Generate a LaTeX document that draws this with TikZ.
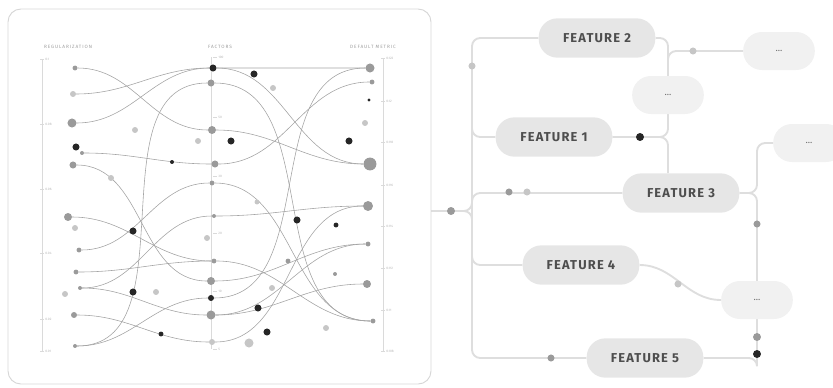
\documentclass[tikz,border=0pt]{standalone}
\usepackage{fontspec}
\setmainfont{Fira Sans}
\newfontfamily\featfont[LetterSpace=9]{Fira Sans}
\newfontfamily\axfont[LetterSpace=20]{Fira Sans}
\usetikzlibrary{backgrounds}
\definecolor{dotdark}{HTML}{262626}
\definecolor{dotmid}{HTML}{9A9A9A}
\definecolor{dotlight}{HTML}{C6C6C6}
\definecolor{curvegray}{HTML}{A4A4A4}
\definecolor{axisgray}{HTML}{DADADA}
\definecolor{ticktext}{HTML}{B4B4B4}
\definecolor{headtext}{HTML}{9C9C9C}
\definecolor{panelgray}{HTML}{D6D6D6}
\definecolor{treegray}{HTML}{DEDEDE}
\definecolor{pillgray}{HTML}{E6E6E6}
\definecolor{pilllight}{HTML}{F1F1F1}
\definecolor{feattext}{HTML}{4E4E4E}
\definecolor{moretext}{HTML}{6E6E6E}

\begin{document}
\begin{tikzpicture}[x=0.03cm,y=-0.03cm,label distance=0.6pt,
  ball/.style={circle,inner sep=0pt},
  dk/.style={ball,fill=dotdark,minimum size=#1}, dk/.default=6pt,
  md/.style={ball,fill=dotmid,minimum size=#1}, md/.default=4.2pt,
  lt/.style={ball,fill=dotlight,minimum size=#1}, lt/.default=5.1pt,
  pl/.style={draw=curvegray,line width=0.5pt},
  ax/.style={draw=axisgray,line width=0.6pt},
  tk/.style={inner sep=0pt,minimum width=0.1cm,minimum height=0.35pt,fill=axisgray},
  tkl/.style={font=\fontsize{2.8}{3}\selectfont,text=ticktext,inner sep=0.5pt},
  head/.style={font=\axfont\fontsize{4}{5}\selectfont,text=headtext},
  feat/.style={rectangle,rounded corners=16pt,fill=pillgray,minimum width=3.5cm,minimum height=1.18cm,
    text=feattext,font=\featfont\bfseries\fontsize{11}{12}\selectfont},
  more/.style={rectangle,rounded corners=16pt,fill=pilllight,minimum width=2.15cm,minimum height=1.14cm,
    text=moretext,font=\fontsize{8}{9}\selectfont},
  tl/.style={draw=treegray,line width=1.6pt,rounded corners=7pt}]
\useasboundingbox (0,0) rectangle (833,387);

% panel
\draw[panelgray,line width=0.8pt,rounded corners=11pt] (8,9) rectangle (431,384);
\coordinate (box) at (431,211);

% axes
\node[head] (h1) at (68,47) {REGULARIZATION};
\node[head] (h2) at (220,47) {FACTORS};
\node[head] (h3) at (373,47) {DEFAULT METRIC};

\node[tk,label={[tkl]right:0.1}] (a1) at (42,59) {};
\node[tk,label={[tkl]right:0.08}] (a2) at (42,124) {};
\node[tk,label={[tkl]right:0.06}] (a3) at (42,189) {};
\node[tk,label={[tkl]right:0.04}] (a4) at (42,253) {};
\node[tk,label={[tkl]right:0.02}] (a5) at (42,319) {};
\node[tk,label={[tkl]right:0.01}] (a6) at (42,351) {};

\node[tk,label={[tkl]right:100}] (b1) at (215,57) {};
\node[tk,label={[tkl]right:50}] (b2) at (215,117) {};
\node[tk,label={[tkl]right:30}] (b3) at (215,176) {};
\node[tk,label={[tkl]right:20}] (b4) at (215,233) {};
\node[tk,label={[tkl]right:10}] (b5) at (215,291) {};
\node[tk,label={[tkl]right:5}] (b6) at (215,349) {};

\node[tk,label={[tkl]right:0.122}] (c1) at (383,58) {};
\node[tk,label={[tkl]right:0.12}] (c2) at (383,101) {};
\node[tk,label={[tkl]right:0.118}] (c3) at (383,142) {};
\node[tk,label={[tkl]right:0.116}] (c4) at (383,185) {};
\node[tk,label={[tkl]right:0.114}] (c5) at (383,226) {};
\node[tk,label={[tkl]right:0.112}] (c6) at (383,268) {};
\node[tk,label={[tkl]right:0.11}] (c7) at (383,310) {};
\node[tk,label={[tkl]right:0.108}] (c8) at (383,351) {};

% dots on the axes
\node[md] (l1) at (75,68) {};
\node[lt] (l2) at (73,94) {};
\node[md=7.7pt] (l3) at (72,123) {};
\node[md=3.4pt] (l4) at (82,153) {};
\node[md=6pt] (l5) at (73,165) {};
\node[md=6.8pt] (l6) at (68,217) {};
\node[md] (l7) at (79,250) {};
\node[md] (l8) at (76,272) {};
\node[md=3.4pt] (l9) at (80,288) {};
\node[md=5.1pt] (l10) at (74,315) {};
\node[md=3.4pt] (l11) at (75,346) {};

\node[dk] (m1) at (213,68) {};
\node[md=6pt] (m2) at (211,83) {};
\node[md=6.8pt] (m3) at (212,130) {};
\node[md=6pt] (m4) at (215,164) {};
\node[md] (m5) at (212,183) {};
\node[md=3.4pt] (m6) at (214,216) {};
\node[lt] (m7) at (207,238) {};
\node[md] (m8) at (214,261) {};
\node[md=6.8pt] (m9) at (211,281) {};
\node[dk=5.1pt] (m10) at (211,298) {};
\node[md=7.7pt] (m11) at (211,315) {};
\node[lt] (m12) at (212,342) {};

\node[md=7.7pt] (r1) at (370,68) {};
\node[md] (r2) at (372,82) {};
\node[dk=2.6pt] (r3) at (369,100) {};
\node[lt] (r4) at (365,123) {};
\node[md=11pt] (r5) at (370,164) {};
\node[md=8.5pt] (r6) at (368,206) {};
\node[md] (r7) at (368,244) {};
\node[md=6.8pt] (r8) at (367,284) {};
\node[md] (r9) at (373,321) {};

% loose dots
\node[dk] (s1) at (76,147) {};
\node[lt] (s2) at (75,228) {};
\node[lt] (s3) at (65,294) {};
\node[lt] (s4) at (135,130) {};
\node[lt] (s5) at (111,178) {};
\node[dk=3.4pt] (s6) at (172,162) {};
\node[dk] (s7) at (133,231) {};
\node[dk] (s8) at (133,292) {};
\node[lt] (s9) at (156,292) {};
\node[dk=4.2pt] (s10) at (161,334) {};
\node[lt] (s11) at (198,141) {};
\node[dk] (s12) at (231,141) {};
\node[dk] (s13) at (254,74) {};
\node[lt] (s14) at (273,88) {};
\node[lt=4.2pt] (s15) at (257,202) {};
\node[dk] (s16) at (297,220) {};
\node[dk=4.2pt] (s17) at (336,225) {};
\node[md] (s18) at (288,261) {};
\node[md=3.4pt] (s19) at (335,274) {};
\node[lt] (s20) at (272,288) {};
\node[dk] (s21) at (258,308) {};
\node[dk] (s22) at (267,332) {};
\node[lt=7.7pt] (s23) at (249,343) {};
\node[lt] (s24) at (326,328) {};
\node[dk] (s25) at (349,141) {};

% tree
\node[feat] (f2) at (597,38) {FEATURE 2};
\node[feat] (f1) at (554,137) {FEATURE 1};
\node[feat] (f3) at (681,193) {FEATURE 3};
\node[feat] (f4) at (581,265) {FEATURE 4};
\node[feat] (f5) at (645,358) {FEATURE 5};
\node[more] (e1) at (779,51) {...};
\node[more] (e2) at (668,95) {...};
\node[more] (e3) at (809,143) {...};
\node[more] (e4) at (757,300) {...};

\node[md=6.8pt] (t1) at (451,211) {};
\node[lt=6pt] (t2) at (472,66) {};
\node[md=6pt] (t3) at (509,192) {};
\node[lt=6pt] (t4) at (527,192) {};
\node[lt=6pt] (t5) at (693,51) {};
\node[dk=6.8pt] (t6) at (640,137) {};
\node[md=6pt] (t7) at (757,224) {};
\node[lt=6pt] (t8) at (678,284) {};
\node[md=6.8pt] (t9) at (757,337) {};
\node[dk=6.8pt] (t10) at (757,354) {};
\node[md=6pt] (t11) at (551,358) {};

\coordinate (tb) at (472,358);
\coordinate (ja) at (472,180);
\coordinate (jb) at (472,242);
\coordinate (jc) at (472,110);
\coordinate (jd) at (472,222);
\coordinate (k3) at (757,143);

\begin{scope}[on background layer]
\draw[ax] (a1.center) -- (a6.center);
\draw[ax] ([xshift=-3pt]b1.center) -- ([xshift=-3pt]b6.center);
\draw[ax] (c1.center) -- (c8.center);

\draw[pl] (l1) to[out=0,in=180] (m3) to[out=0,in=180] (r5);
\draw[pl] (l2) to[out=0,in=180] (m1) to[out=0,in=180] (r1);
\draw[pl] (l3) to[out=0,in=180] (m1) to[out=0,in=180] (r5);
\draw[pl] (l4) to[out=0,in=180] (m4) to[out=0,in=180] (r2);
\draw[pl] (l5) to[out=0,in=180] (m9) to[out=0,in=180] (r7);
\draw[pl] (l6) to[out=0,in=180] (m8) to[out=0,in=180] (r9);
\draw[pl] (l7) to[out=0,in=180] (m5) to[out=0,in=180] (r9);
\draw[pl] (l8) to[out=0,in=180] (m8);
\draw[pl] (l9) to[out=0,in=180] (m11) to[out=0,in=180] (r8);
\draw[pl] (l9) to[out=0,in=180] (m6) to[out=0,in=180] (r6);
\draw[pl] (l10) to[out=0,in=180] (m12) to[out=0,in=180] (r6);
\draw[pl] (l11) to[out=0,in=180] (m10) to[out=0,in=180] (r1);
\draw[pl] (l11) to[out=0,in=180] (m2) to[out=0,in=180] (r9);
\draw[pl] (m11) to[out=0,in=180] (r7);

\draw[tl] (f2) -| (tb) -- (f5);
\draw[tl] (box) -| (ja);
\draw[tl] (box) -| (jb);
\draw[tl] (jc) |- (f1);
\draw[tl] (jd) |- (f3);
\draw[tl] (jb) |- (f4);
\draw[tl] (f2) -| (e2);
\draw[tl] (e2) |- (e1);
\draw[tl] (f1) -| (e2);
\draw[tl] (f1) -| (e2 |- f3.north);
\draw[tl] (f3) -| (k3) -- (e3);
\draw[tl] (f3) -| (e4);
\draw[tl] (f4) to[out=0,in=180] (e4);
\draw[tl] (e4) -- (t10);
\draw[tl] (f5) -| (t10);
\end{scope}
\end{tikzpicture}
\end{document}
